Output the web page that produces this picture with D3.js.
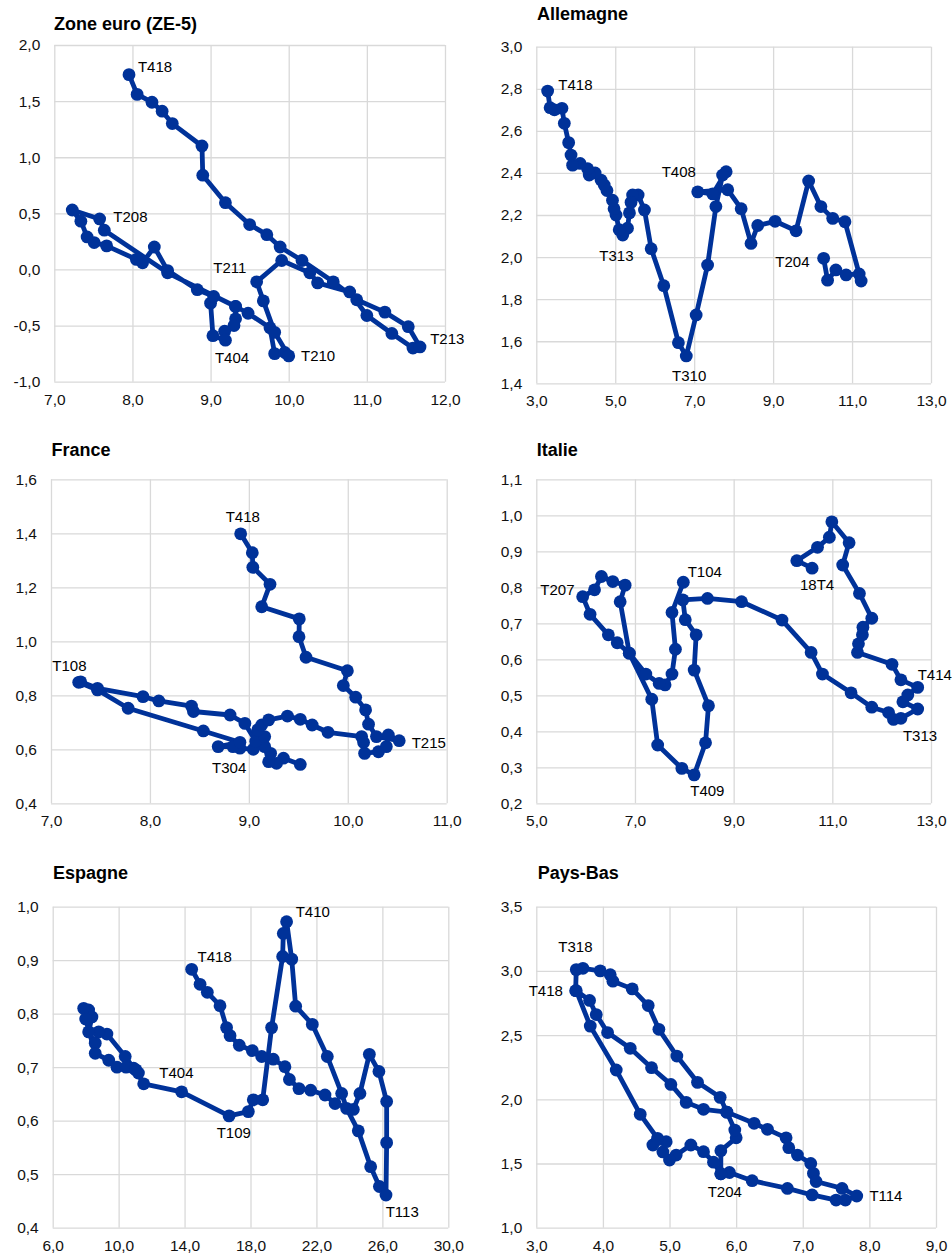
<!DOCTYPE html>
<html>
<head>
<meta charset="utf-8">
<script src="https://cdn.jsdelivr.net/npm/d3@7"></script>
<style>
  html, body { margin: 0; padding: 0; background: #fff; }
  svg { display: block; font-family: "Liberation Sans", Arial, sans-serif; }
</style>
</head>
<body>
<svg id="chart" width="952" height="1256"></svg>
<script>
// ---------------- DATA ----------------
const zoneEuro = [
  [9.32,-0.33],[9.32,-0.44],[9.30,-0.50],[9.18,-0.55],[9.19,-0.63],[9.03,-0.59],[9.00,-0.30],[9.04,-0.24],
  [8.83,-0.18],[8.45,-0.01],[8.28,0.20],[8.13,0.06],[8.05,0.09],[7.67,0.21],[7.51,0.24],[7.42,0.29],
  [7.34,0.43],[7.23,0.53],[7.58,0.45],[7.64,0.35],[8.45,-0.03],[9.32,-0.33],[9.48,-0.39],[9.76,-0.52],
  [9.82,-0.75],[9.95,-0.74],[10.0,-0.77],[9.82,-0.56],[9.675,-0.28],[9.59,-0.11],[9.91,0.08],[10.27,-0.03],
  [10.37,-0.12],[10.78,-0.20],[11.0,-0.41],[11.32,-0.57],[11.59,-0.70],[11.68,-0.69],[11.53,-0.51],[11.23,-0.38],
  [10.87,-0.27],[10.57,-0.11],[10.17,0.08],[9.89,0.20],[9.72,0.31],[9.50,0.40],[9.19,0.595],[8.90,0.84],
  [8.89,1.10],[8.51,1.30],[8.38,1.41],[8.25,1.49],[8.06,1.56],[7.956,1.736]
];
const allemagne = [
  [10.28,1.994],[10.38,1.89],[10.59,1.939],[10.85,1.915],[11.18,1.92],[11.23,1.886],[10.82,2.168],[10.51,2.184],
  [10.21,2.24],[9.90,2.362],[9.58,2.125],[9.05,2.17],[8.61,2.15],[8.44,2.065],[8.19,2.23],[7.85,2.32],
  [7.09,2.31],[7.47,2.30],[7.81,2.406],[7.72,2.39],[7.55,2.24],[7.34,1.962],[7.05,1.725],[6.80,1.53],
  [6.60,1.593],[6.23,1.864],[5.91,2.04],[5.74,2.224],[5.58,2.295],[5.44,2.295],[5.40,2.26],[5.36,2.21],
  [5.31,2.137],[5.19,2.105],[5.10,2.13],[5.02,2.20],[4.97,2.23],[4.93,2.27],[4.79,2.316],[4.72,2.343],
  [4.64,2.366],[4.49,2.40],[4.34,2.39],[4.30,2.42],[4.11,2.445],[3.92,2.437],[3.88,2.485],[3.82,2.544],
  [3.71,2.636],[3.65,2.707],[3.46,2.70],[3.35,2.71],[3.287,2.789]
];
const france = [
  [9.52,0.544],[9.35,0.567],[9.28,0.548],[9.20,0.554],[9.22,0.585],[9.16,0.61],[9.045,0.60],[8.91,0.604],
  [8.84,0.61],[8.69,0.61],[8.91,0.626],[8.54,0.668],[7.78,0.752],[7.47,0.82],[7.28,0.848],[7.30,0.85],
  [7.47,0.826],[7.93,0.795],[8.09,0.779],[8.42,0.76],[8.44,0.74],[8.81,0.727],[8.96,0.696],[9.07,0.63],
  [9.16,0.647],[9.09,0.672],[9.13,0.69],[9.20,0.709],[9.39,0.723],[9.52,0.711],[9.64,0.690],[9.80,0.663],
  [10.14,0.647],[10.16,0.625],[10.17,0.585],[10.31,0.591],[10.39,0.61],[10.41,0.653],[10.52,0.632],[10.29,0.647],
  [10.21,0.693],[10.18,0.746],[10.08,0.793],[9.955,0.836],[9.996,0.891],[9.578,0.941],[9.507,1.017],[9.51,1.083],
  [9.13,1.128],[9.214,1.211],[9.04,1.274],[9.035,1.328],[8.917,1.398]
];
const italie = [
  [7.98,0.814],[7.75,0.73],[7.82,0.628],[7.75,0.559],[7.61,0.529],[7.49,0.533],[7.22,0.559],[6.885,0.617],
  [6.70,0.76],[6.80,0.806],[6.55,0.816],[6.32,0.83],[6.18,0.793],[5.94,0.774],[6.09,0.725],[6.46,0.668],
  [6.64,0.646],[6.885,0.617],[7.34,0.489],[7.46,0.362],[7.95,0.297],[8.20,0.279],[8.43,0.368],[8.49,0.471],
  [8.20,0.570],[8.24,0.668],[8.02,0.71],[7.97,0.765],[8.47,0.769],[9.16,0.760],[9.98,0.709],[10.57,0.619],
  [10.80,0.559],[11.38,0.507],[11.80,0.467],[12.14,0.452],[12.24,0.433],[12.39,0.436],[12.73,0.462],[12.43,0.482],
  [12.53,0.501],[12.73,0.522],[12.39,0.543],[12.21,0.586],[11.51,0.619],[11.53,0.643],[11.61,0.668],[11.62,0.689],
  [11.80,0.714],[11.55,0.783],[11.21,0.862],[11.34,0.924],[10.99,0.982],[10.94,0.939],[10.70,0.911],[10.28,0.874],
  [10.59,0.853]
];
const espagne = [
  [11.2,0.689],[10.91,0.698],[10.40,0.72],[9.29,0.762],[8.79,0.766],[8.58,0.745],[8.18,0.766],[8.38,0.794],
  [8.18,0.807],[7.88,0.81],[8.00,0.79],[8.58,0.726],[9.40,0.713],[9.90,0.70],[10.45,0.70],[11.05,0.695],
  [11.52,0.669],[13.82,0.654],[16.70,0.609],[17.87,0.617],[18.17,0.639],[18.74,0.639],[19.28,0.774],[19.95,0.907],
  [19.99,0.95],[20.19,0.972],[20.50,0.902],[20.74,0.814],[21.75,0.78],[22.66,0.72],[23.53,0.651],[23.83,0.623],
  [24.54,0.581],[25.29,0.514],[25.82,0.477],[26.22,0.461],[26.26,0.559],[26.26,0.636],[25.79,0.692],[25.21,0.724],
  [24.64,0.651],[24.24,0.621],[23.13,0.632],[22.52,0.648],[21.65,0.657],[20.94,0.660],[20.36,0.677],[20.09,0.701],
  [19.38,0.715],[18.68,0.72],[18.11,0.731],[17.32,0.741],[16.76,0.759],[16.55,0.774],[16.15,0.815],[15.38,0.84],
  [14.94,0.855],[14.43,0.883]
];
const paysBas = [
  [5.77,1.42],[5.66,1.51],[5.51,1.592],[5.32,1.644],[5.10,1.566],[5.00,1.527],[4.90,1.59],[4.95,1.67],
  [4.75,1.644],[4.82,1.696],[4.56,1.883],[4.20,2.228],[3.81,2.57],[3.60,2.846],[3.80,2.77],[3.90,2.66],
  [4.07,2.52],[4.41,2.397],[4.73,2.246],[5.02,2.116],[5.25,1.976],[5.51,1.922],[5.86,1.90],[6.27,1.813],
  [6.47,1.766],[6.75,1.70],[6.79,1.623],[6.92,1.566],[7.12,1.50],[7.16,1.423],[7.20,1.36],[7.59,1.306],
  [7.81,1.247],[7.64,1.215],[7.50,1.215],[7.14,1.255],[6.77,1.306],[6.24,1.366],[5.90,1.43],[5.77,1.42],
  [5.77,1.60],[6.00,1.70],[5.98,1.76],[5.86,1.90],[5.76,2.015],[5.42,2.132],[5.11,2.337],[4.84,2.545],
  [4.68,2.73],[4.44,2.86],[4.15,2.92],[4.11,2.97],[3.96,3.00],[3.70,3.02],[3.60,3.01],[3.59,2.846]
];

// tick values
const zeXTicks = [7, 8, 9, 10, 11, 12];
const zeYTicks = [-1, -0.5, 0, 0.5, 1, 1.5, 2];
const deXTicks = [3, 5, 7, 9, 11, 13];
const deYTicks = [1.4, 1.6, 1.8, 2.0, 2.2, 2.4, 2.6, 2.8, 3.0];
const frXTicks = [7, 8, 9, 10, 11];
const frYTicks = [0.4, 0.6, 0.8, 1.0, 1.2, 1.4, 1.6];
const itXTicks = [5, 7, 9, 11, 13];
const itYTicks = [0.2, 0.3, 0.4, 0.5, 0.6, 0.7, 0.8, 0.9, 1.0, 1.1];
const esXTicks = [6, 10, 14, 18, 22, 26, 30];
const esYTicks = [0.4, 0.5, 0.6, 0.7, 0.8, 0.9, 1.0];
const nlXTicks = [3, 4, 5, 6, 7, 8, 9];
const nlYTicks = [1.0, 1.5, 2.0, 2.5, 3.0, 3.5];

// point annotations: [text, x, y] in data units (text start, baseline)
const zeLabels = [["T418",8.07,1.76],["T208",7.755,0.42],["T211",9.035,-0.035],["T404",9.056,-0.836],["T210",10.157,-0.82],["T213",11.81,-0.667]];
const deLabels = [["T418",3.557,2.794],["T408",6.176,2.382],["T313",4.596,1.983],["T310",6.44,1.411],["T204",9.056,1.954]];
const frLabels = [["T418",8.766,1.443],["T108",7.013,0.891],["T215",10.646,0.606],["T304",8.628,0.514]];
const itLabels = [["T104",8.068,0.8296],["T207",5.081,0.779],["T409",8.12,0.221],["T414",12.73,0.543],["T313",12.43,0.374],["18T4",10.345,0.793]];
const esLabels = [["T410",20.74,0.981],["T418",14.79,0.897],["T404",12.47,0.679],["T109",15.95,0.568],["T113",26.2,0.42]];
const nlLabels = [["T318",3.33,3.15],["T418",2.885,2.807],["T204",5.573,1.241],["T114",8.0,1.208]];

// ---------------- LAYOUT ----------------
const panels = [
  {title:"Zone euro (ZE-5)", data:zoneEuro, labels:zeLabels, xt:zeXTicks, yt:zeYTicks,
   rect:{l:54.3, r:445, t:45, b:381.7}, tpos:[54, 29.5]},
  {title:"Allemagne", data:allemagne, labels:deLabels, xt:deXTicks, yt:deYTicks,
   rect:{l:536.3, r:931, t:46.7, b:383.3}, tpos:[537, 19.5]},
  {title:"France", data:france, labels:frLabels, xt:frXTicks, yt:frYTicks,
   rect:{l:51, r:446.7, t:479.3, b:803.3}, tpos:[51.5, 455.7]},
  {title:"Italie", data:italie, labels:itLabels, xt:itXTicks, yt:itYTicks,
   rect:{l:536.3, r:931, t:479.3, b:803.3}, tpos:[536.7, 455.7]},
  {title:"Espagne", data:espagne, labels:esLabels, xt:esXTicks, yt:esYTicks,
   rect:{l:52.7, r:448.3, t:906.7, b:1227.7}, tpos:[53, 879.3]},
  {title:"Pays-Bas", data:paysBas, labels:nlLabels, xt:nlXTicks, yt:nlYTicks,
   rect:{l:536.3, r:936, t:906.7, b:1227.7}, tpos:[537.7, 879.3]}
];

const BLUE = "#003299";
const GRID = "#d9d9d9";
const fmt = v => d3.format(".1f")(v).replace(".", ",").replace("\u2212", "-");

const svg = d3.select("#chart");
svg.append("rect").attr("width", 952).attr("height", 1256).attr("fill", "#fff");

panels.forEach(p => {
  const R = p.rect;
  const x = d3.scaleLinear().domain(d3.extent(p.xt)).range([R.l, R.r]);
  const y = d3.scaleLinear().domain(d3.extent(p.yt)).range([R.b, R.t]);
  const g = svg.append("g");

  const gx = g.append("g").attr("transform", `translate(0,${R.b})`)
    .call(d3.axisBottom(x).tickValues(p.xt).tickSize(-(R.b - R.t)).tickFormat(fmt).tickPadding(12));
  const gy = g.append("g").attr("transform", `translate(${R.l},0)`)
    .call(d3.axisLeft(y).tickValues(p.yt).tickSize(-(R.r - R.l)).tickFormat(fmt).tickPadding(14));
  [gx, gy].forEach(a => {
    a.select(".domain").remove();
    a.selectAll(".tick line").attr("stroke", GRID).attr("stroke-width", 1.3);
    a.selectAll(".tick text").attr("fill", "#111").style("font-size", "15.5px")
      .style("font-family", '"Liberation Sans", Arial, sans-serif');
  });

  g.append("text").attr("x", p.tpos[0]).attr("y", p.tpos[1])
    .attr("font-weight", "bold").attr("font-size", 18).attr("fill", "#000").text(p.title);

  const line = d3.line().x(d => x(d[0])).y(d => y(d[1]));
  g.append("path").datum(p.data).attr("d", line)
    .attr("fill", "none").attr("stroke", BLUE).attr("stroke-width", 4.8)
    .attr("stroke-linejoin", "round").attr("stroke-linecap", "round");
  g.selectAll("circle.pt").data(p.data).enter().append("circle")
    .attr("class", "pt").attr("cx", d => x(d[0])).attr("cy", d => y(d[1]))
    .attr("r", 6.4).attr("fill", BLUE);

  g.selectAll("text.lab").data(p.labels).enter().append("text")
    .attr("class", "lab").attr("x", d => x(d[1])).attr("y", d => y(d[2]))
    .attr("font-size", 15).attr("fill", "#000").text(d => d[0]);
});
</script>
</body>
</html>
